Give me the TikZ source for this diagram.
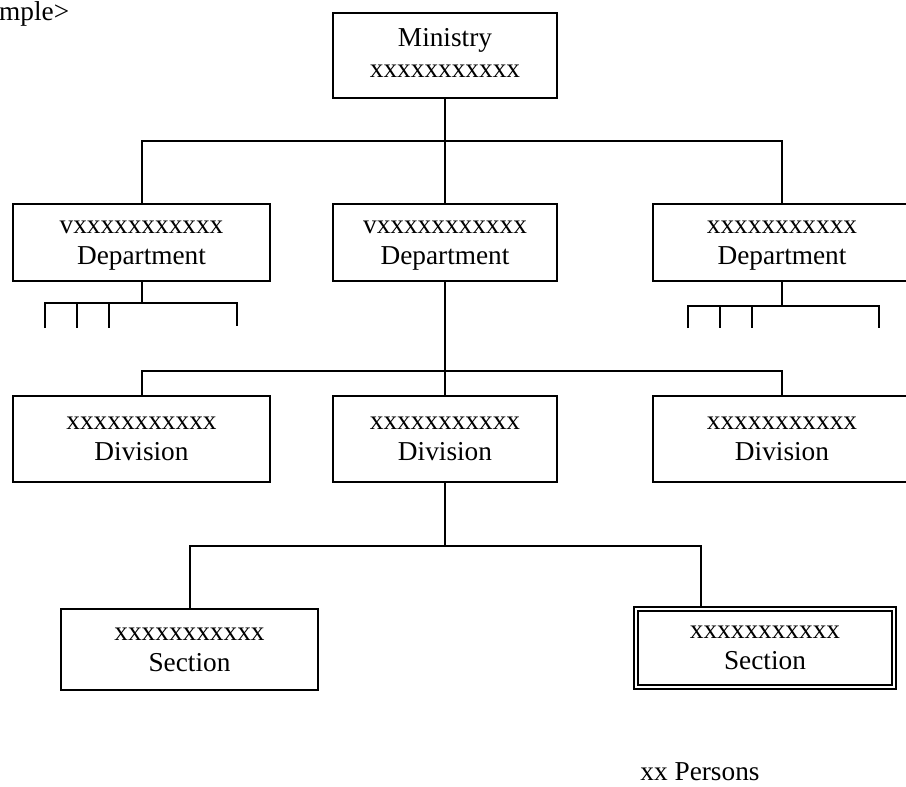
\documentclass[tikz,border=0pt]{standalone}
\usepackage{fontspec}
\setmainfont{Liberation Serif}
\newcommand{\twoline}[2]{\strut #1\\\strut #2}
\tikzset{
  unitbox/.style={rectangle,draw=black,line width=2pt,align=center,inner sep=0pt,
    font=\fontsize{27.3}{31}\selectfont},
  twinbox/.style={unitbox,double=white,double distance=2.4pt,line width=1.8pt},
  link/.style={draw=black,line width=2pt}
}
\begin{document}
\begin{tikzpicture}[x=1pt,y=-1pt]
\useasboundingbox (0,0) rectangle (906,787);

\begin{scope}[every node/.style={unitbox}]
    \node[minimum width=224pt,minimum height=85pt] (min) at (445,55.5) {\twoline{Ministry}{xxxxxxxxxxx}};
    \node[minimum width=257pt,minimum height=77pt] (depL) at (141.5,242.5) {\twoline{vxxxxxxxxxxx}{Department}};
    \node[minimum width=224pt,minimum height=77pt] (depM) at (445,242.5) {\twoline{vxxxxxxxxxxx}{Department}};
    \node[minimum width=258pt,minimum height=77pt] (depR) at (782,242.5) {\twoline{xxxxxxxxxxx}{Department}};
    \node[minimum width=257pt,minimum height=86pt] (divL) at (141.5,439) {\twoline{xxxxxxxxxxx}{Division}};
    \node[minimum width=224pt,minimum height=86pt] (divM) at (445,439) {\twoline{xxxxxxxxxxx}{Division}};
    \node[minimum width=258pt,minimum height=86pt] (divR) at (782,439) {\twoline{xxxxxxxxxxx}{Division}};
    \node[minimum width=257pt,minimum height=81pt] (secL) at (189.5,649.5) {\twoline{xxxxxxxxxxx}{Section}};
    \node[twinbox,minimum width=258pt,minimum height=78pt] (secR) at (765,648) {\twoline{xxxxxxxxxxx}{Section}};
\end{scope}

\node[anchor=base west,font=\fontsize{27.3}{31}\selectfont,inner sep=0pt] (tag) at (-1,20) {mple>};
\node[anchor=base,font=\fontsize{27.3}{31}\selectfont,inner sep=0pt] (staff) at (700,780) {xx Persons};

% ministry to departments
\draw[link] (min.south) -- ++(0,42) coordinate (hubA);
\draw[link] (depL.north) |- (hubA) -| (depR.north);
\draw[link] (hubA) -- (depM.north);

% small branches under the side departments
\draw[link] (depL.south) -- ++(0,22) coordinate (brL);
\draw[link] (45,328) -- (45,303) -- (237,303) -- (237,326);
\foreach \xx in {77,109} \draw[link] (\xx,303) -- (\xx,328);
\draw[link] (depR.south) -- ++(0,25) coordinate (brR);
\draw[link] (688,328) -- (688,306) -- (879,306) -- (879,328);
\foreach \xx in {720,752} \draw[link] (\xx,306) -- (\xx,328);

% department to divisions
\draw[link] (depM.south) -- ++(0,89) coordinate (hubB);
\draw[link] (divL.north) |- (hubB) -| (divR.north);
\draw[link] (hubB) -- (divM.north);

% division to sections
\draw[link] (divM.south) -- ++(0,63) coordinate (hubC);
\draw[link] (secL.north) |- (hubC) -| (701,606);
\end{tikzpicture}
\end{document}
